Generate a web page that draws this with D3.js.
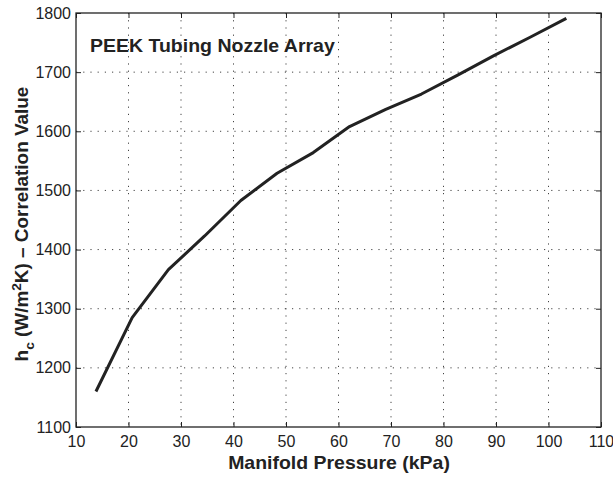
<!DOCTYPE html>
<html>
<head>
<meta charset="utf-8">
<script src="https://cdn.jsdelivr.net/npm/d3@7"></script>
<style>
  html, body { margin: 0; padding: 0; background: #fff; }
  svg text { font-family: "Liberation Sans", Arial, Helvetica, sans-serif; fill: #222; }
</style>
</head>
<body>
<svg id="chart" width="613" height="478"></svg>
<script>
// Manifold pressure (kPa) and correlation heat-transfer coefficient (W/m^2K)
const pressure = [13.8, 20.7, 27.6, 34.5, 41.4, 48.3, 55.2, 62.1, 69.0, 75.8, 82.7, 89.6, 96.5, 103.4];
const hc       = [1160, 1285, 1366, 1423, 1483, 1529, 1564, 1608, 1637, 1663, 1695, 1728, 1759, 1791];
const xTicks = [10, 20, 30, 40, 50, 60, 70, 80, 90, 100, 110];
const yTicks = [1100, 1200, 1300, 1400, 1500, 1600, 1700, 1800];
const chartTitle = "PEEK Tubing Nozzle Array";
const xTitle = "Manifold Pressure (kPa)";

const svg = d3.select("#chart");
const margin = { left: 76, top: 13, right: 12, bottom: 51 };
const W = 613, H = 478;
const pw = W - margin.left - margin.right;
const ph = H - margin.top - margin.bottom;

const x = d3.scaleLinear().domain([10, 110]).range([0, pw]);
const y = d3.scaleLinear().domain([1100, 1800]).range([ph, 0]);

const g = svg.append("g").attr("transform", `translate(${margin.left},${margin.top})`);

// dotted grid
const grid = g.append("g").attr("stroke", "#444").attr("stroke-width", 1)
  .attr("stroke-dasharray", "1.2,6");
grid.selectAll(".gx").data(xTicks.slice(1, -1)).join("line")
  .attr("x1", d => x(d)).attr("x2", d => x(d)).attr("y1", 0).attr("y2", ph);
grid.selectAll(".gy").data(yTicks.slice(1, -1)).join("line")
  .attr("y1", d => y(d)).attr("y2", d => y(d)).attr("x1", 0).attr("x2", pw);

// axes with inward ticks on all four sides
const tick = 5;
const fmt = d3.format("d");
const axBottom = g.append("g").attr("transform", `translate(0,${ph})`)
  .call(d3.axisBottom(x).tickValues(xTicks).tickSize(-tick).tickPadding(9).tickFormat(fmt));
const axTop = g.append("g")
  .call(d3.axisTop(x).tickValues(xTicks).tickSize(-tick).tickFormat(""));
const axLeft = g.append("g")
  .call(d3.axisLeft(y).tickValues(yTicks).tickSize(-tick).tickPadding(5).tickFormat(fmt));
const axRight = g.append("g").attr("transform", `translate(${pw},0)`)
  .call(d3.axisRight(y).tickValues(yTicks).tickSize(-tick).tickFormat(""));

[axBottom, axTop, axLeft, axRight].forEach(a => {
  a.select(".domain").remove();
  a.selectAll("line").attr("stroke", "#222");
  a.selectAll("text").attr("font-size", 16).attr("fill", "#222")
    .attr("font-family", "Liberation Sans, Arial, sans-serif");
});

// frame
g.append("rect").attr("width", pw).attr("height", ph)
  .attr("fill", "none").attr("stroke", "#222").attr("stroke-width", 1.3);

// data line
const line = d3.line().x((d, i) => x(pressure[i])).y(d => y(d));
g.append("path").datum(hc).attr("d", line)
  .attr("fill", "none").attr("stroke", "#222").attr("stroke-width", 3)
  .attr("stroke-linejoin", "round");

// stretch a text node horizontally (in its own frame) to a given run length
function fitWidth(sel, target) {
  const w = sel.node().getComputedTextLength();
  return target / w;
}

// in-plot title
const t1 = svg.append("text").attr("font-size", 17.5).attr("font-weight", "bold").text(chartTitle);
t1.attr("transform", `translate(90,52) scale(${fitWidth(t1, 245)},1)`);

// x axis title
const t2 = svg.append("text").attr("font-size", 17.5).attr("font-weight", "bold")
  .attr("text-anchor", "middle").text(xTitle);
t2.attr("transform", `translate(339,469) scale(${fitWidth(t2, 222)},1)`);

// y axis title with subscript and superscript
const yt = svg.append("text").attr("text-anchor", "middle")
  .attr("font-size", 18).attr("font-weight", "bold");
yt.append("tspan").text("h");
yt.append("tspan").attr("font-size", 13).attr("dy", 6).text("c");
yt.append("tspan").attr("dy", -6).text(" (W/m");
yt.append("tspan").attr("font-size", 13).attr("dy", -7).text("2");
yt.append("tspan").attr("dy", 7).text("K) \u2013 Correlation Value");
const ytw = yt.node().getBBox().width;
yt.attr("transform", `translate(28,224) rotate(-90) scale(${275 / ytw},1)`);
</script>
</body>
</html>
